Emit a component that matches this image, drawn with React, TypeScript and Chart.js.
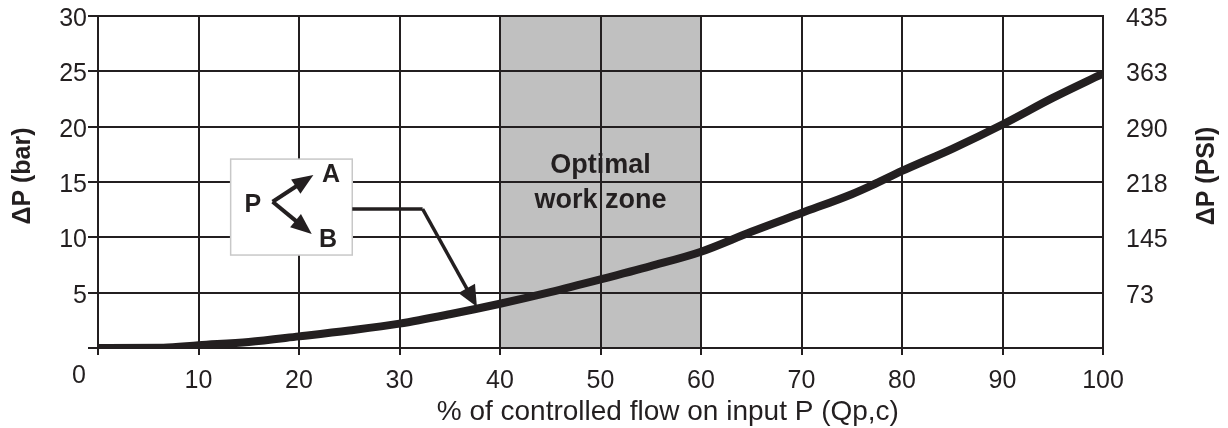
import React, { useEffect, useRef } from 'react';
import { Chart, registerables } from 'chart.js';

Chart.register(...registerables);

// ---- data ----
const flowPct = [0, 6.5, 10, 15, 20, 25, 30, 35, 40, 45, 50, 55, 60, 65, 70, 75, 77, 80, 85, 90, 95, 100];
const dpBar = [0, 0.02, 0.25, 0.55, 1.05, 1.58, 2.2, 3.05, 4.0, 5.05, 6.2, 7.4, 8.7, 10.5, 12.2, 13.9, 14.7, 16.0, 18.0, 20.2, 22.6, 24.8];
const xTickLabels = ['', '10', '20', '30', '40', '50', '60', '70', '80', '90', '100'];
const barTickLabels = ['', '5', '10', '15', '20', '25', '30'];
const psiTickLabels = ['', '73', '145', '218', '290', '363', '435'];
const zoneRange = [40, 60];
const zoneLabel = ['Optimal', 'work zone'];
const xTitle = '% of controlled flow on input P (Qp,c)';
const yLeftTitle = '\u0394P (bar)';
const yRightTitle = '\u0394P (PSI)';
const cornerZero = '0';
const insetPorts = ['P', 'A', 'B'];

// ---- annotation placement (data units) ----
const inset = { x0: 13.2, x1: 25.3, yTop: 17.07, yBottom: 8.4 };
const leader = { y: 12.56, bendX: 32.3, tipX: 37.7, tipY: 3.73 };
const zoneTextY = 15.8;

const INK = '#231f20';
const FONT = '"Liberation Sans", Arial, Helvetica, sans-serif';

function drawArrow(ctx: CanvasRenderingContext2D, x1: number, y1: number, x2: number, y2: number, len: number, half: number, lw: number) {
  const ang = Math.atan2(y2 - y1, x2 - x1);
  const bx = x2 - Math.cos(ang) * len;
  const by = y2 - Math.sin(ang) * len;
  ctx.beginPath();
  ctx.lineWidth = lw;
  ctx.moveTo(x1, y1);
  ctx.lineTo(bx + Math.cos(ang) * 2, by + Math.sin(ang) * 2);
  ctx.stroke();
  ctx.beginPath();
  ctx.moveTo(x2, y2);
  ctx.lineTo(bx + Math.sin(ang) * half, by - Math.cos(ang) * half);
  ctx.lineTo(bx - Math.sin(ang) * half, by + Math.cos(ang) * half);
  ctx.closePath();
  ctx.fill();
}

const decorPlugin = {
  id: 'decor',
  beforeDraw(chart: any) {
    const { ctx, chartArea } = chart;
    const xs = chart.scales.x;
    const ys = chart.scales.y;
    ctx.save();
    ctx.fillStyle = '#ffffff';
    ctx.fillRect(0, 0, chart.width, chart.height);
    const zx0 = xs.getPixelForValue(zoneRange[0]);
    const zx1 = xs.getPixelForValue(zoneRange[1]);
    ctx.fillStyle = '#c0c0c0';
    ctx.fillRect(zx0, chartArea.top, zx1 - zx0, chartArea.bottom - chartArea.top);
    ctx.fillStyle = INK;
    ctx.font = `bold 27px ${FONT}`;
    ctx.textAlign = 'center';
    ctx.textBaseline = 'alphabetic';
    const cx = xs.getPixelForValue((zoneRange[0] + zoneRange[1]) / 2);
    const baseY = ys.getPixelForValue(zoneTextY);
    zoneLabel.forEach((t, i) => ctx.fillText(t, cx, baseY + i * 35));
    ctx.restore();
  },
  afterDatasetsDraw(chart: any) {
    const { ctx, chartArea } = chart;
    const xs = chart.scales.x;
    const ys = chart.scales.y;
    ctx.save();
    ctx.strokeStyle = INK;
    ctx.fillStyle = INK;
    ctx.lineJoin = 'miter';

    // inset box
    const bx = xs.getPixelForValue(inset.x0);
    const bx2 = xs.getPixelForValue(inset.x1);
    const by = ys.getPixelForValue(inset.yTop);
    const by2 = ys.getPixelForValue(inset.yBottom);
    const w = bx2 - bx;
    const h = by2 - by;
    ctx.fillStyle = '#ffffff';
    ctx.fillRect(bx, by, w, h);
    ctx.strokeStyle = '#c8c8c8';
    ctx.lineWidth = 1.5;
    ctx.strokeRect(bx, by, w, h);
    ctx.strokeStyle = INK;
    ctx.fillStyle = INK;
    const vx = bx + 0.345 * w, vy = by + 0.445 * h;
    drawArrow(ctx, vx, vy, bx + 0.68 * w, by + 0.167 * h, 21, 8.5, 4);
    drawArrow(ctx, vx, vy, bx + 0.667 * w, by + 0.78 * h, 21, 8.5, 4);
    ctx.font = `bold 25px ${FONT}`;
    ctx.textAlign = 'center';
    ctx.textBaseline = 'middle';
    ctx.fillText(insetPorts[0], bx + 0.183 * w, by + 0.48 * h);
    ctx.fillText(insetPorts[1], bx + 0.825 * w, by + 0.17 * h);
    ctx.fillText(insetPorts[2], bx + 0.80 * w, by + 0.845 * h);

    // leader
    const ly = ys.getPixelForValue(leader.y);
    const lbx = xs.getPixelForValue(leader.bendX);
    ctx.lineWidth = 3.5;
    ctx.beginPath();
    ctx.moveTo(bx2, ly);
    ctx.lineTo(lbx, ly);
    ctx.stroke();
    drawArrow(ctx, lbx, ly, xs.getPixelForValue(leader.tipX), ys.getPixelForValue(leader.tipY), 21, 9.5, 3.5);

    // corner zero
    ctx.font = `25px ${FONT}`;
    ctx.textAlign = 'right';
    ctx.textBaseline = 'middle';
    ctx.fillText(cornerZero, chartArea.left - 12, chartArea.bottom + 28);

    // x title
    ctx.font = `28px ${FONT}`;
    ctx.textAlign = 'center';
    ctx.textBaseline = 'alphabetic';
    ctx.fillText(xTitle, chartArea.left + 0.567 * (chartArea.right - chartArea.left), xs.bottom - 8);

    // y titles (both read bottom-to-top)
    ctx.font = `bold 25px ${FONT}`;
    ctx.textBaseline = 'middle';
    const midY = (chartArea.top + chartArea.bottom) / 2 - 6;
    ctx.save();
    ctx.translate(23, midY);
    ctx.rotate(-Math.PI / 2);
    ctx.fillText(yLeftTitle, 0, 0);
    ctx.restore();
    ctx.save();
    ctx.translate(chart.width - 20.5, midY);
    ctx.rotate(-Math.PI / 2);
    ctx.fillText(yRightTitle, 0, 0);
    ctx.restore();

    ctx.restore();
  },
};

export default function App() {
  const ref = useRef<HTMLCanvasElement | null>(null);
  useEffect(() => {
    if (!ref.current) return;
    const chart = new Chart(ref.current, {
      type: 'line',
      data: {
        datasets: [
          {
            data: flowPct.map((x, i) => ({ x, y: dpBar[i] })),
            borderColor: INK,
            borderWidth: 8,
            pointRadius: 0,
            cubicInterpolationMode: 'monotone',
            borderCapStyle: 'butt',
            fill: false,
          },
        ],
      },
      options: {
        animation: false,
        responsive: true,
        maintainAspectRatio: false,
        layout: { padding: { top: 15, left: 0, right: 0, bottom: 0 } },
        plugins: { legend: { display: false }, tooltip: { enabled: false } },
        scales: {
          x: {
            type: 'linear',
            min: 0,
            max: 100,
            grid: { color: INK, lineWidth: 2, tickLength: 7, tickColor: INK, tickWidth: 2 },
            border: { display: true, color: INK, width: 2 },
            ticks: {
              stepSize: 10,
              padding: 11,
              color: INK,
              font: { family: FONT, size: 25 },
              maxRotation: 0,
              autoSkip: false,
              callback: (_v: any, i: number) => xTickLabels[i],
            },
            afterFit: (s: any) => { s.height = 80; },
          },
          y: {
            type: 'linear',
            position: 'left',
            min: 0,
            max: 30,
            grid: { color: INK, lineWidth: 2, tickLength: 10, tickColor: INK, tickWidth: 2 },
            border: { display: true, color: INK, width: 2 },
            ticks: {
              stepSize: 5,
              padding: 1,
              labelOffset: 3,
              color: INK,
              font: { family: FONT, size: 25 },
              callback: (_v: any, i: number) => barTickLabels[i],
            },
            afterFit: (s: any) => { s.width = 98; },
          },
          y2: {
            type: 'linear',
            position: 'right',
            min: 0,
            max: 30,
            grid: { display: true, drawOnChartArea: false, drawTicks: true, tickLength: 22, tickColor: 'rgba(0,0,0,0)' },
            border: { display: true, color: INK, width: 2 },
            ticks: {
              stepSize: 5,
              padding: 1,
              labelOffset: 3,
              color: INK,
              font: { family: FONT, size: 25 },
              callback: (_v: any, i: number) => psiTickLabels[i],
            },
            afterFit: (s: any) => { s.width = 125; },
          },
        },
      },
      plugins: [decorPlugin],
    } as any);
    return () => chart.destroy();
  }, []);
  return (
    <div style={{ position: 'absolute', left: 0, top: 0, width: 1228, height: 428 }}>
      <canvas ref={ref} />
    </div>
  );
}
